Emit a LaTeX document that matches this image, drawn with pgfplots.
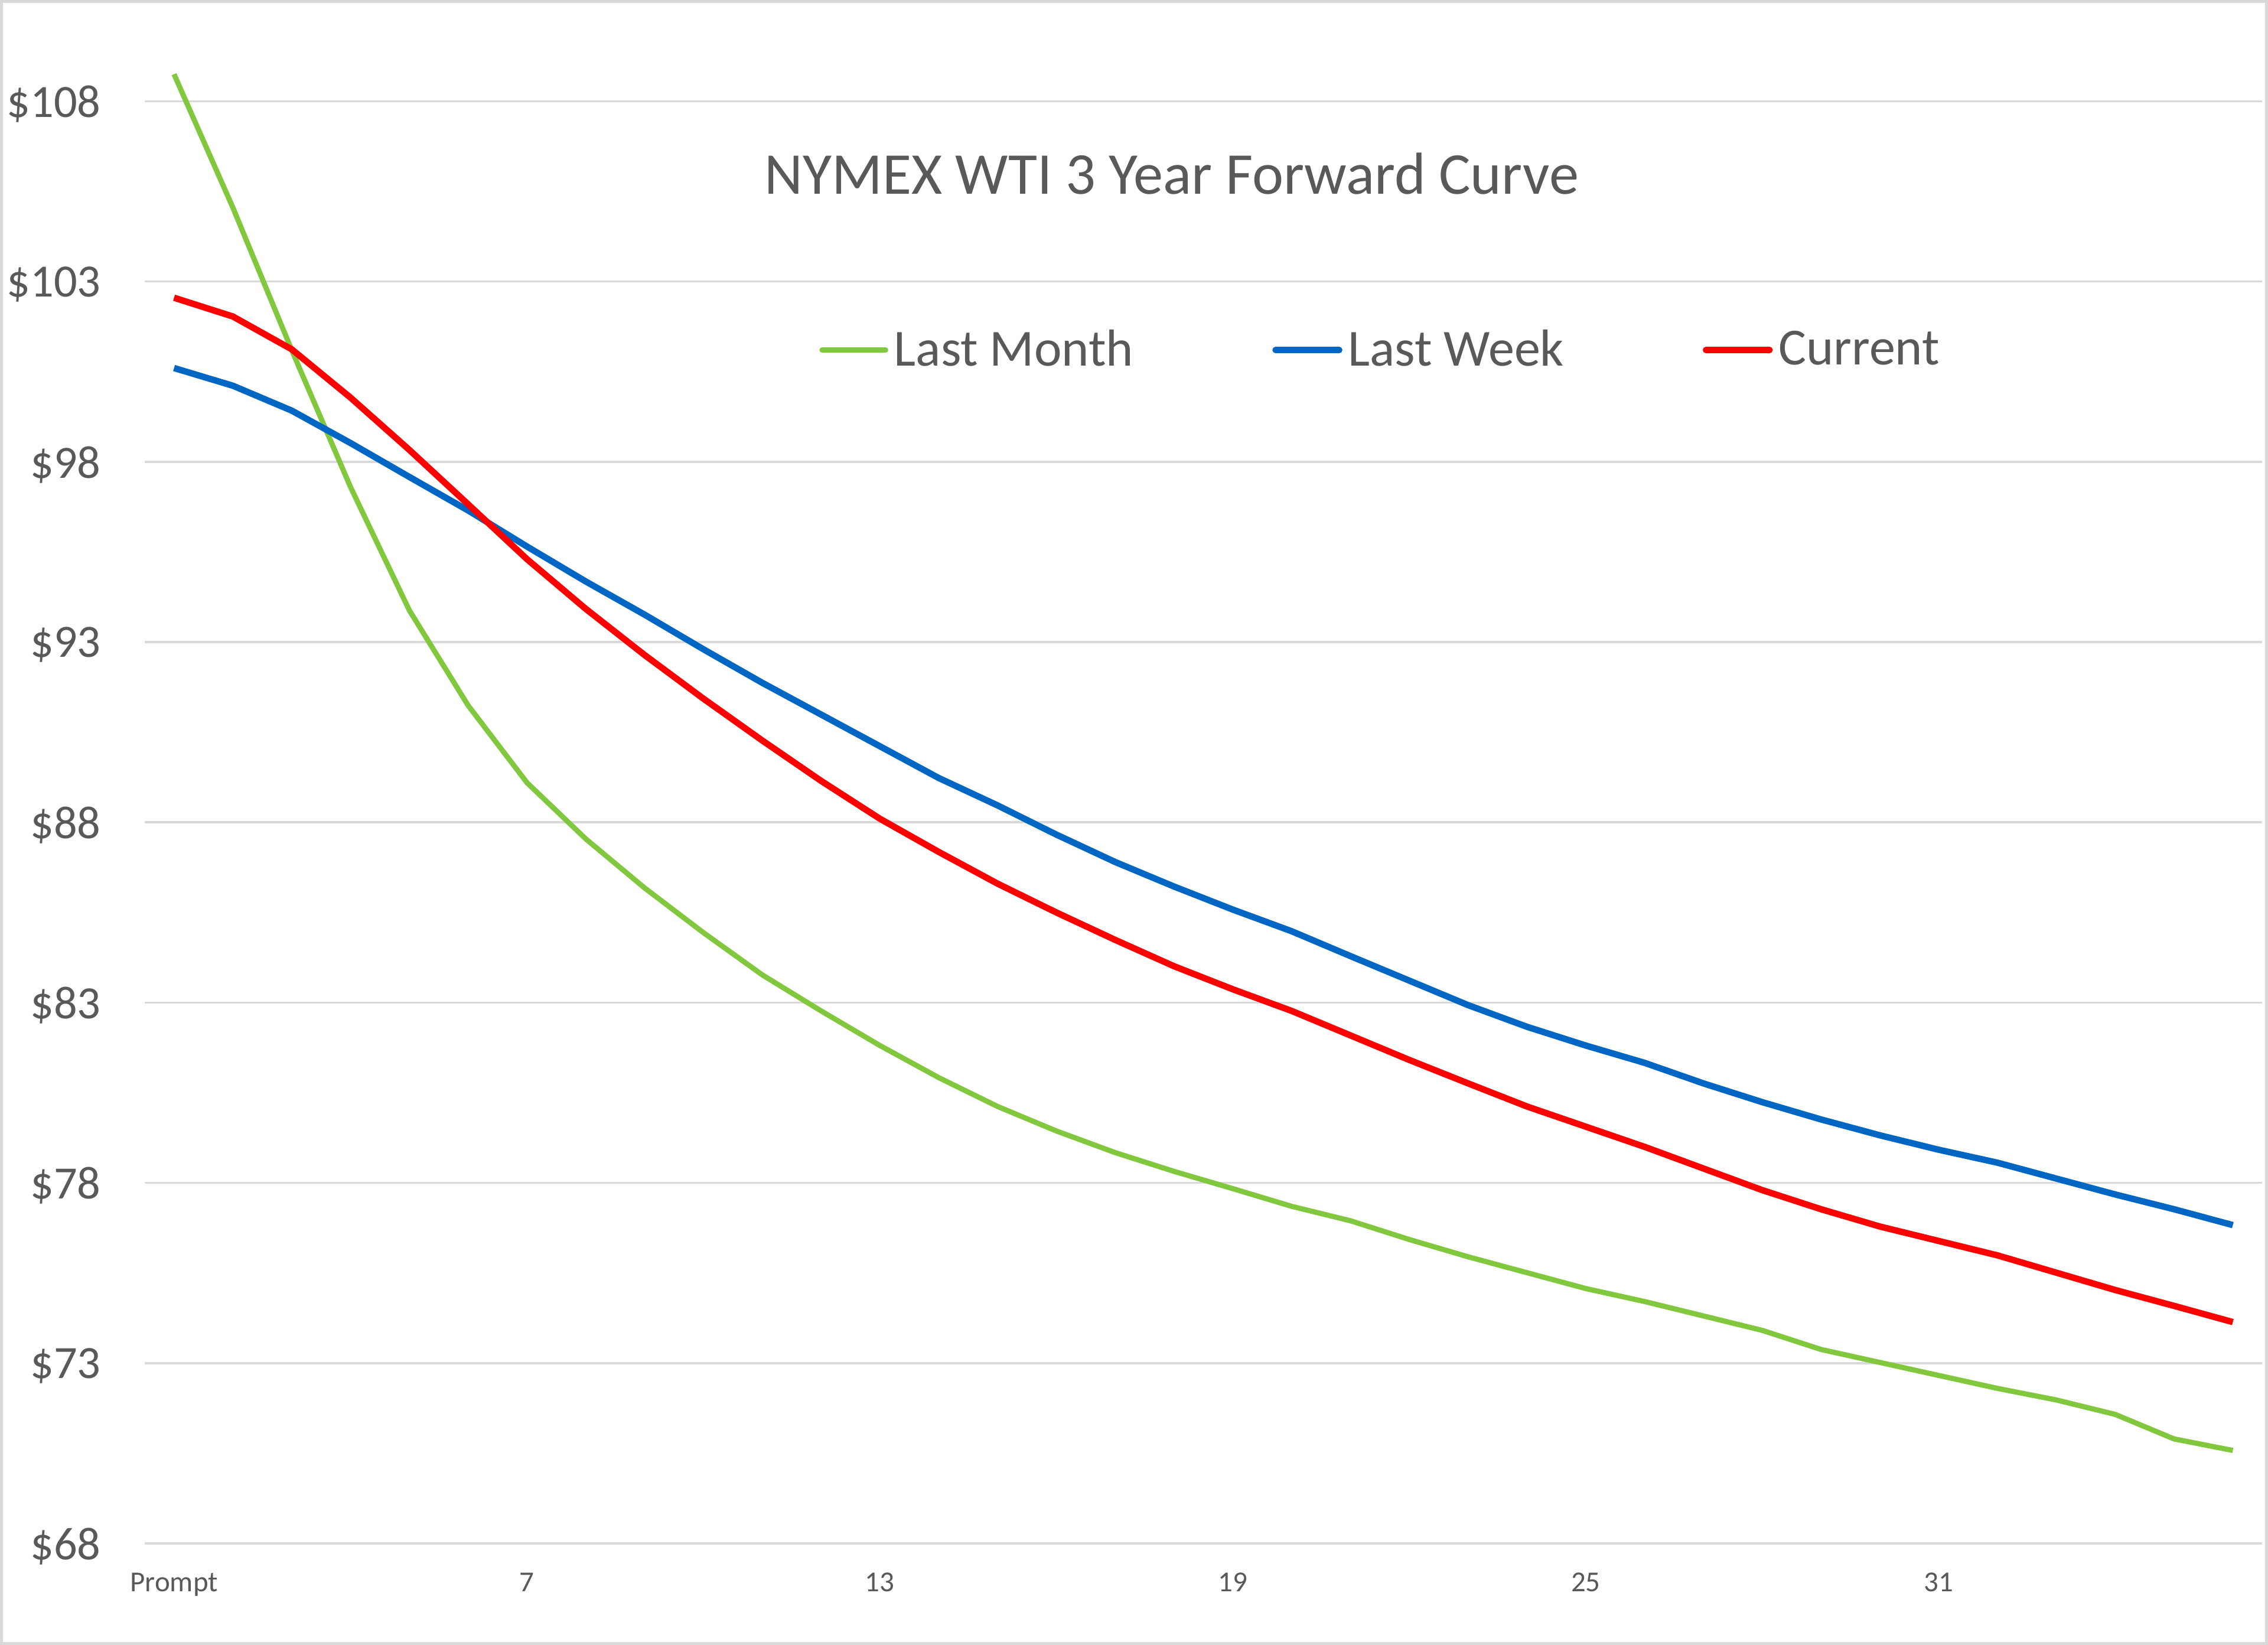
\documentclass[border=0pt]{standalone}
\usepackage{pgfplots}
\pgfplotsset{compat=1.18}
\usepackage{pgfplotstable}
\usepackage{fontspec}
\setmainfont{Carlito}
\definecolor{txtgray}{HTML}{595959}
\definecolor{gridgray}{HTML}{D9D9D9}
\definecolor{cgreen}{HTML}{82C83E}
\definecolor{cblue}{HTML}{0066C4}
\definecolor{cred}{HTML}{FF0000}

\pgfplotstableread{
m  lastmonth lastweek current
1  108.75 100.60 102.55
2  105.05 100.11 102.03
3  101.10  99.42 101.12
4   97.30  98.52  99.78
5   93.88  97.58  98.33
6   91.24  96.65  96.82
7   89.10  95.65  95.30
8   87.54  94.68  93.92
9   86.18  93.76  92.64
10  84.94  92.80  91.43
11  83.77  91.87  90.27
12  82.77  90.99  89.15
13  81.81  90.11  88.10
14  80.92  89.23  87.18
15  80.12  88.47  86.30
16  79.44  87.66  85.50
17  78.84  86.90  84.74
18  78.32  86.22  84.01
19  77.84  85.58  83.37
20  77.35  84.98  82.77
21  76.95  84.29  82.09
22  76.43  83.61  81.41
23  75.95  82.93  80.76
24  75.51  82.33  80.12
25  75.07  81.81  79.56
26  74.71  81.33  79.00
27  74.31  80.76  78.40
28  73.91  80.24  77.80
29  73.38  79.76  77.27
30  73.02  79.32  76.79
31  72.66  78.92  76.39
32  72.30  78.56  75.99
33  71.98  78.12  75.51
34  71.58  77.68  75.03
35  70.90  77.27  74.59
36  70.58  76.83  74.14
}\datatable

\begin{document}
\begin{tikzpicture}
\path[use as bounding box] (-50pt,-35pt) rectangle (734pt,533.5pt);
\draw[gridgray, line width=1pt] (-49.5pt,-34.5pt) rectangle (733.5pt,533pt);
\begin{axis}[
  at={(0,0)}, anchor=south west,
  scale only axis,
  width=732pt, height=517.2pt,
  xmin=0.5, xmax=36.5,
  ymin=68, ymax=109.5,
  axis line style={draw=none},
  major tick length=0pt,
  ymajorgrids,
  grid style={gridgray, line width=0.75pt},
  ytick={68,73,78,83,88,93,98,103,108},
  yticklabels={\$68,\$73,\$78,\$83,\$88,\$93,\$98,\$103,\$108},
  xtick={1,7,13,19,25,31},
  xticklabels={Prompt,7,13,19,25,31},
  yticklabel style={font=\fontsize{16}{16}\selectfont, text=txtgray, anchor=east, inner sep=0pt, xshift=-15pt, yshift=-1pt},
  xticklabel style={font=\fontsize{10}{10}\selectfont, text=txtgray, anchor=north, inner sep=0pt, yshift=-10pt},
  legend columns=3,
  legend style={
    at={(0.5845,0.7976)}, anchor=center, draw=none, fill=none,
    inner sep=0pt,
    font=\fontsize{18}{18}\selectfont, text=txtgray,
    nodes={inner sep=2pt},
    /tikz/every even column/.append style={column sep=46pt},
  },
  legend image code/.code={\draw[#1, line cap=round] (0pt,0pt) -- (22pt,0pt);},
]
\addplot[cgreen, line width=1.8pt, no markers, line join=round] table[x=m, y=lastmonth] {\datatable};
\addlegendentry{Last Month}
\addplot[cblue, line width=2.2pt, no markers, line join=round] table[x=m, y=lastweek] {\datatable};
\addlegendentry{Last Week}
\addplot[cred, line width=2.2pt, no markers, line join=round] table[x=m, y=current] {\datatable};
\addlegendentry{Current}
\node[font=\fontsize{20.5}{20.5}\selectfont, text=txtgray, anchor=center] at (axis description cs:0.485,0.9155) {NYMEX WTI 3 Year Forward Curve};
\end{axis}
\end{tikzpicture}
\end{document}
